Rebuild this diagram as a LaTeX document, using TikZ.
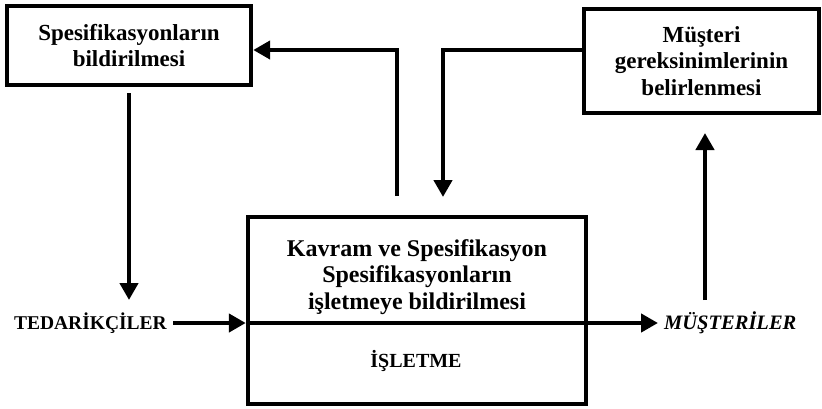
\documentclass[tikz,border=0pt]{standalone}
\usepackage{fontspec}
\usetikzlibrary{arrows.meta}
\setmainfont{Liberation Serif}

\begin{document}
\begin{tikzpicture}[x=1pt, y=-1pt,
  boxtext/.style={font=\bfseries\fontsize{23}{26.5}\selectfont, align=center},
  box/.style={draw, line width=4.4pt, inner sep=0pt, boxtext},
  caption/.style={inner sep=0pt, font=\bfseries\fontsize{19.5}{22}\selectfont},
  flow/.style={line width=4.4pt, -{Triangle[length=17pt,width=18pt]}}]
\useasboundingbox (0,0) rectangle (822,408);

% boxes
\node[box, minimum width=244pt, minimum height=79pt] (spec) at (129,45.5)
  {Spesifikasyonların\\bildirilmesi};
\node[box, minimum width=235pt, minimum height=104pt] (need) at (701.5,61)
  {Müşteri\\gereksinimlerinin\\belirlenmesi};
\node[draw, line width=4.4pt, minimum width=338pt, minimum height=187pt] (firm) at (417,310.5) {};

% texts inside the firm box
\node[boxtext, inner sep=0pt, font=\bfseries\fontsize{24}{26.5}\selectfont] (concept) at (417,277)
  {Kavram ve Spesifikasyon\\Spesifikasyonların\\işletmeye bildirilmesi};
\node[caption, font=\bfseries\fontsize{20}{22}\selectfont] (firmname) at (416,361) {İŞLETME};

% outer labels
\node[caption, anchor=east] (suppliers) at (167,323) {TEDARİKÇİLER};
\node[caption, anchor=west, font=\bfseries\itshape\fontsize{20.5}{22}\selectfont] (customers) at (664,323) {MÜŞTERİLER};

% connector points
\coordinate (upstart) at (397,196);
\coordinate (upbend) at (397,50);
\coordinate (downstart) at (129,93);
\coordinate (downend) at (129,300);
\coordinate (needbend) at (443,50);
\coordinate (needend) at (443,197);
\coordinate (upfrom) at (705,300);
\coordinate (upto) at (705,133);

% connectors
\draw[flow] (upstart) -- (upbend) -- (spec.east |- upbend);
\draw[flow] (downstart) -- (downend);
\draw[flow] (need.west |- needbend) -- (needbend) -- (needend);
\draw[flow] (upfrom) -- (upto);
\draw[flow, shorten <=6pt] (suppliers.east) -- (firm.west |- suppliers.east);
\draw[flow, shorten >=6pt] (firm.west |- suppliers.east) -- (customers.west);
\end{tikzpicture}
\end{document}
